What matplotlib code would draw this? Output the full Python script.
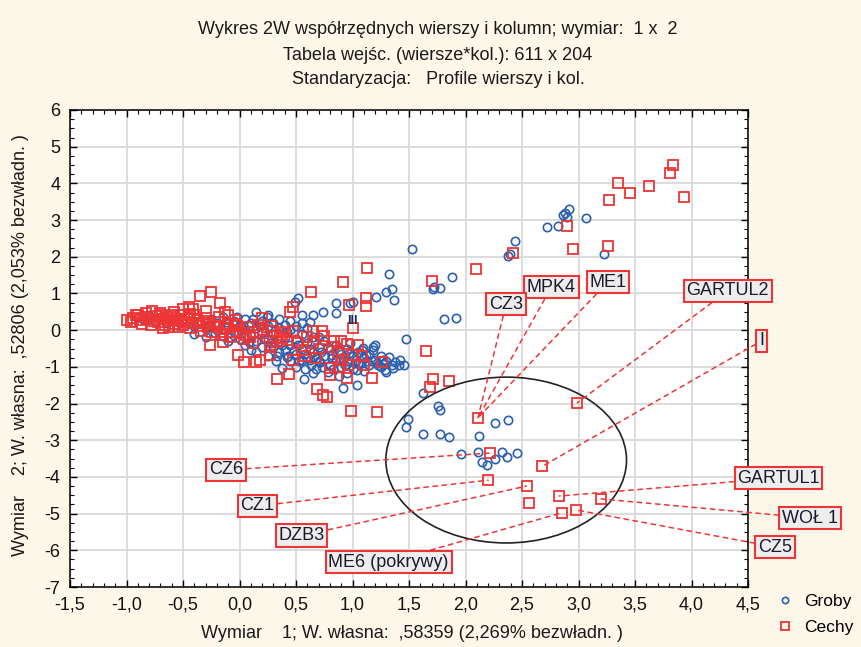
import matplotlib
matplotlib.use("Agg")
import matplotlib.pyplot as plt
from matplotlib.patches import Ellipse
from matplotlib.ticker import MultipleLocator, FixedLocator

plt.rcParams['font.family'] = ['Liberation Sans', 'DejaVu Sans']

# ---------------- data ----------------
groby_x = [2.92, 2.86, 2.90, 3.07, 2.88, 2.82, 2.72, 2.44, 2.39, 2.38, 1.53, 1.88, 3.23,
           1.32, 1.72, 1.77, 1.71, 1.35, 1.30, 1.21, 1.37, 1.00, 1.81, 1.92, 1.47, 1.18,
           0.85, 0.74, 0.85, 0.98, 0.49, 0.52, 0.24, 1.27, 1.29, 1.36, 1.41, 1.46, 1.62,
           1.76, 1.77, 1.49, 1.47, 1.62, 1.77, 1.85, 2.12, 2.26, 2.38, 1.96, 2.11, 2.32,
           2.46, 2.37, 2.26, 2.15, 2.19, 0.92, 1.04, 0.57, 0.65, 1.30, 1.20, 1.09, 1.04,
           0.82, 0.71, 0.62, 0.55, 0.42, 0.38, 0.95, 1.07,
           -0.90, -0.85, -0.80, -0.75, -0.70, -0.65, -0.60, -0.55, -0.50, -0.45, -0.40,
           -0.35, -0.30, -0.25, -0.20, -0.20, -0.15, -0.15, -0.10, -0.10, -0.05, -0.05,
           0.00, 0.00, 0.05, 0.05, 0.05, 0.10, 0.10, 0.15, 0.15, 0.20, 0.20, 0.20, 0.25,
           0.25, 0.30, 0.30, 0.30, 0.35, 0.35, 0.35, 0.40, 0.40, 0.40, 0.45, 0.45, 0.45,
           0.50, 0.50, 0.50, 0.55, 0.55, 0.60, 0.60, 0.60, 0.65, 0.65, 0.70, 0.70, 0.75,
           0.75, 0.80, 0.80, 0.85, 0.85, 0.90, 0.90, 0.95, 0.95, 1.00, 1.00, 1.05, 1.05,
           1.10, 1.10, 1.15, 1.15, 1.20, 1.25, 1.25, 1.30, 1.35,
           0.25, 0.35, 0.45, 0.55, 0.62, 0.12, -0.02, 0.15, 0.25, 0.32, 0.50, 0.58, 0.68,
           0.78, 0.88, 0.70, 0.78, 0.88, 0.98, 1.08, 1.18, 1.22, -0.30, -0.40, 0.10, 0.55,
           0.65, 0.15,
           -0.28, -0.22, -0.12, -0.08, 0.02, 0.08, 0.18, 0.22, 0.28, 0.38, 0.42, 0.48,
           0.52, 0.58, 0.62, 0.68, 0.72, 0.82, 0.92, 0.97, 1.02, 1.12, 1.17, 1.27, 1.32,
           0.33, 0.43, 0.53, 0.63, 0.73, 0.83, 0.93, 1.03, 1.13, 1.23, 1.38, 1.42]
groby_y = [3.30, 3.14, 3.08, 3.06, 3.18, 2.84, 2.81, 2.43, 2.08, 2.02, 2.21, 1.45, 2.08,
           1.53, 1.18, 1.15, 1.12, 1.12, 1.04, 0.90, 0.82, 0.77, 0.31, 0.33, -0.24, -0.46,
           0.74, 0.50, 0.47, 0.74, 0.77, 0.87, 0.36, -0.81, -1.08, -1.03, -0.95, -0.95, -1.70,
           -2.06, -2.17, -2.42, -2.64, -2.83, -2.83, -2.91, -2.88, -2.53, -2.45, -3.37, -3.32, -3.32,
           -3.35, -3.45, -3.51, -3.59, -3.67, -1.57, -1.49, -1.33, -1.17, -1.14, -0.40, -0.48, -1.08,
           -0.76, -0.87, -0.81, -0.81, -0.73, -1.03, -1.17, -0.89,
           0.35, 0.30, 0.40, 0.25, 0.35, 0.20, 0.30, 0.15, 0.30, 0.20, 0.10,
           0.25, 0.05, 0.30, 0.20, 0.00, 0.35, -0.15, 0.10, -0.30, 0.25, -0.05,
           0.15, -0.25, 0.30, 0.00, -0.40, 0.20, -0.15, 0.05, -0.30, 0.25, -0.05, -0.45, 0.10,
           -0.25, 0.20, -0.10, -0.45, 0.05, -0.30, -0.60, 0.15, -0.20, -0.55, 0.00, -0.40, -0.85,
           0.10, -0.25, -0.65, -0.10, -0.50, 0.05, -0.35, -0.75, -0.20, -0.60, -0.45, -0.85, -0.30,
           -0.70, -0.55, -0.95, -0.40, -0.80, -0.65, -1.00, -0.50, -0.85, -0.70, -1.05, -0.60, -0.90,
           -0.75, -1.10, -0.65, -0.95, -0.80, -0.70, -1.00, -0.85, -0.95,
           0.40, 0.30, 0.25, 0.20, 0.22, 0.30, 0.35, -0.60, -0.70, -0.85, -1.00, -1.05, -1.05,
           -1.15, -1.25, -0.20, -0.45, -0.55, -0.35, -0.55, -0.55, -0.90, -0.20, -0.10, -0.55, 0.40,
           0.40, 0.50,
           0.12, -0.08, 0.22, -0.18, 0.05, -0.32, 0.10, -0.22, -0.35, -0.40, -0.05, -0.55,
           -0.40, -0.65, -0.50, -0.75, -0.60, -0.68, -0.78, -0.62, -0.90, -0.68, -0.85, -0.92, -0.72,
           -0.70, -0.70, -0.85, -0.95, -1.00, -1.05, -0.95, -0.80, -0.85, -0.95, -0.88, -0.80]

cechy_x = [3.84, 3.81, 3.35, 3.62, 3.46, 3.27, 3.93, 2.90, 2.95, 3.26, 2.42, 2.09, 1.70,
           1.13, 0.92, 1.12, 1.12, 0.97, 1.00, 1.65, 1.71, 1.85, 1.69, 1.22, 0.99, 2.11,
           2.99, 2.22, 2.68, 2.20, 2.54, 2.56, 2.83, 3.20, 2.85, 2.98,
           0.63, 0.47, 0.45, 0.73, 0.65, 0.47, 0.40, 0.30, 0.21, 0.52, 0.65, 0.84, 0.90,
           0.95, 0.82, 0.87, 1.00, 0.91, 1.26, 0.47, 0.80, 0.80, 0.88, 0.95, 1.17, 0.44,
           0.33, 0.69, 0.74, 0.77, 0.27, 0.27, 0.18, 0.33,
           -0.94, -0.88, -0.83, -0.77, -0.70, -0.64, -0.59, -0.50, -0.41, -0.35, -0.25,
           -0.17, -0.13, -0.26, -0.15, -0.01, 0.04, 0.15, -0.68, -0.62, -0.48, -0.38, -0.32,
           -0.22, -0.04, 0.00, 0.09, 0.20, 0.21, -0.06,
           -1.00, -0.96, -0.90, -0.86, -0.80, -0.78, -0.74, -0.72, -0.68, -0.66, -0.62,
           -0.58, -0.56, -0.54, -0.52, -0.50, -0.46, -0.44, -0.42, -0.40, -0.36, -0.34,
           -0.30, -0.28, -0.24, -0.20, -0.18, -0.16, -0.12, -0.10, -0.08, -0.02, 0.04,
           0.08, 0.12, 0.16, 0.24, 0.28, 0.36, 0.42, 0.55, 0.60, 0.70, 0.75, 1.05, 1.10,
           -0.45, -0.30, -0.58, -0.10,
           -0.92, -0.84, -0.76, -0.70, -0.60, -0.52, -0.44, -0.36, -0.26, -0.14, -0.04,
           0.06, 0.12, 0.30, 0.38, 0.58, 0.68, 0.96, 1.08]
cechy_y = [4.50, 4.28, 4.01, 3.93, 3.74, 3.55, 3.63, 2.84, 2.21, 2.29, 2.10, 1.67, 1.34,
           1.69, 1.31, 0.88, 0.66, 0.69, 0.06, -0.57, -1.33, -1.38, -1.55, -2.23, -2.20, -2.39,
           -1.98, -3.35, -3.71, -4.09, -4.25, -4.71, -4.52, -4.60, -4.98, -4.90,
           1.04, 0.63, 0.50, -0.02, -0.02, -0.02, -0.05, -0.02, 0.01, -0.35, -0.35, -0.29, -0.29,
           -0.38, -0.46, -0.62, -0.68, -0.81, -0.87, -0.81, -1.03, -1.22, -1.00, -1.30, -1.30, -1.19,
           -1.33, -1.60, -1.76, -1.82, -0.68, -0.46, -0.81, -0.32,
           0.33, 0.28, 0.47, 0.52, 0.47, 0.36, 0.36, 0.58, 0.58, 0.93, 1.04,
           0.74, 0.50, -0.41, -0.32, -0.68, -0.87, -0.87, 0.06, 0.09, 0.22, 0.28, 0.20,
           0.22, 0.28, -0.08, -0.19, 0.33, -0.08, -0.05,
           0.28, 0.22, 0.40, 0.18, 0.30, 0.15, 0.38, 0.22, 0.30, 0.14, 0.26,
           0.18, 0.30, 0.08, 0.40, 0.14, 0.30, 0.05, 0.20, 0.42, 0.10, -0.02,
           0.32, 0.08, -0.05, 0.12, 0.35, -0.12, 0.05, 0.18, -0.20, 0.10, -0.25,
           0.08, -0.35, 0.15, -0.20, 0.12, -0.12, -0.28, -0.55, -0.20, -0.50, -0.15, -0.40, -0.95,
           0.62, 0.52, 0.50, 0.40,
           0.40, 0.36, 0.24, 0.40, 0.40, 0.24, 0.44, 0.20, 0.16, 0.02, 0.16,
           -0.12, -0.04, -0.30, -0.22, -0.70, -0.75, -0.95, -0.70]

label_texts = ["MPK4", "ME1", "CZ3", "GARTUL2", "I", "GARTUL1", "WOŁ 1", "CZ5",
               "CZ6", "CZ1", "DZB3", "ME6 (pokrywy)"]
label_x = [2.76, 3.26, 2.36, 4.32, 4.62, 4.77, 5.05, 4.74, -0.12, 0.16, 0.55, 1.32]
label_y = [1.17, 1.31, 0.71, 1.07, -0.29, -4.03, -5.12, -5.91, -3.81, -4.79, -5.60, -6.32]
target_x = [2.11, 2.11, 2.11, 2.99, 2.68, 2.83, 3.20, 2.98, 2.22, 2.20, 2.54, 2.85]
target_y = [-2.39, -2.39, -2.39, -1.98, -3.71, -4.52, -4.60, -4.90, -3.35, -4.09, -4.25, -4.98]

ellipse_center = (2.36, -3.54)
ellipse_size = (2.13, 4.52)

x_ticks = [-1.5, -1.0, -0.5, 0.0, 0.5, 1.0, 1.5, 2.0, 2.5, 3.0, 3.5, 4.0, 4.5]
x_tick_labels = ["-1,5", "-1,0", "-0,5", "0,0", "0,5", "1,0", "1,5", "2,0", "2,5",
                 "3,0", "3,5", "4,0", "4,5"]
y_ticks = [-7, -6, -5, -4, -3, -2, -1, 0, 1, 2, 3, 4, 5, 6]

title_lines = ["Wykres 2W współrzędnych wierszy i kolumn; wymiar:  1 x  2",
               "Tabela wejśc. (wiersze*kol.): 611 x 204",
               "Standaryzacja:   Profile wierszy i kol."]
x_label = "Wymiar    1; W. własna:  ,58359 (2,269% bezwładn. )"
y_label = "Wymiar    2; W. własna:  ,52806 (2,053% bezwładn. )"

# ---------------- figure ----------------
BG = '#fcf7e9'
BLUE = '#2b5fb0'
RED = '#ee3434'

fig = plt.figure(figsize=(8.61, 6.47), dpi=100, facecolor=BG)
ax = fig.add_axes([70/861, 60/647, 678/861, 477/647])
ax.set_facecolor('white')

ax.set_xlim(-1.5, 4.5)
ax.set_ylim(-7, 6)
ax.xaxis.set_major_locator(FixedLocator(x_ticks))
ax.set_xticklabels(x_tick_labels)
ax.yaxis.set_major_locator(FixedLocator(y_ticks))
ax.set_yticklabels([str(v) for v in y_ticks])
ax.xaxis.set_minor_locator(MultipleLocator(0.1))
ax.yaxis.set_minor_locator(MultipleLocator(0.25))
ax.tick_params(which='both', direction='in', top=True, right=True, color='black')
ax.tick_params(which='major', length=5, width=1, labelsize=13, pad=7, labelcolor='#111111')
ax.tick_params(which='minor', length=3, width=0.8)
ax.grid(True, which='major', color='#d9d9d9', lw=1.3, zorder=0)
ax.set_axisbelow(True)
for s in ax.spines.values():
    s.set_color('black')
    s.set_linewidth(1.1)

ax.plot(groby_x, groby_y, linestyle='none', marker='o', markersize=6,
        markerfacecolor='none', markeredgecolor=BLUE, markeredgewidth=1.2,
        label='Groby', zorder=3)
ax.plot(cechy_x, cechy_y, linestyle='none', marker='s', markersize=7.5,
        markerfacecolor='none', markeredgecolor=RED, markeredgewidth=1.3,
        label='Cechy', zorder=4)

ax.add_patch(Ellipse(ellipse_center, ellipse_size[0], ellipse_size[1], fill=False,
                     edgecolor='#222222', lw=1.2, zorder=5))

ax.text(1.0, 0.25, "III", fontsize=9, color='#1a2a55', ha='center', va='center',
        fontweight='bold', zorder=6)

for t, lx, ly, tx, ty in zip(label_texts, label_x, label_y, target_x, target_y):
    ax.annotate(t, xy=(tx, ty), xytext=(lx, ly), textcoords='data',
                ha='center', va='center', fontsize=13, color='#1a1a2a',
                annotation_clip=False, zorder=7,
                bbox=dict(boxstyle='square,pad=0.15', fc='#ededed', ec=RED, lw=1.5),
                arrowprops=dict(arrowstyle='-', color=RED, lw=1.1,
                                linestyle=(0, (3, 3)), shrinkA=0, shrinkB=0))

for i, line in enumerate(title_lines):
    fig.text(438/861, 1 - (30 + 25*i)/647, line, ha='center', va='center',
             fontsize=13, color='#1a1a1a')

fig.text(412/861, 1 - 633/647, x_label, ha='center', va='center', fontsize=13, color='#1a1a1a')
fig.text(21/861, 1 - 345/647, y_label, ha='center', va='center', fontsize=13,
         rotation=90, color='#1a1a1a')

leg = ax.legend(loc='upper left', bbox_to_anchor=(776/861, 1 - 594/647),
                bbox_transform=fig.transFigure, frameon=False, fontsize=12.5,
                handletextpad=0.6, labelspacing=0.6, markerscale=0.75,
                borderaxespad=0, borderpad=0, handlelength=1.0)

fig.savefig('out.png', dpi=100, facecolor=BG)
